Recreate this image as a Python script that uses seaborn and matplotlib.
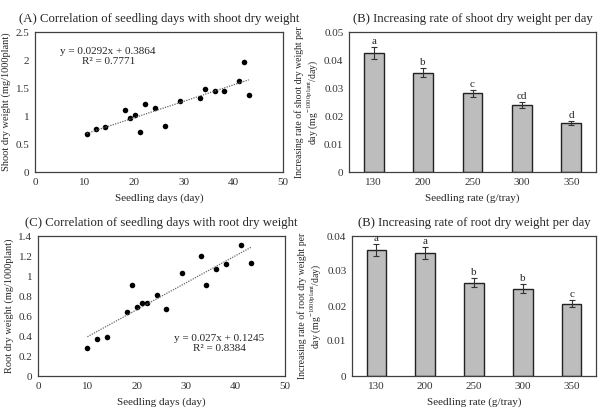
import matplotlib
matplotlib.use("Agg")
import matplotlib.pyplot as plt
import seaborn as sns
import pandas as pd
import numpy as np

sns.set_style("white")
plt.rcParams['font.family'] = ['Liberation Serif', 'DejaVu Serif']
plt.rcParams['mathtext.fontset'] = 'custom'
plt.rcParams['mathtext.rm'] = 'Liberation Serif'

# shoot dry weight vs seedling days
shoot_days = [10.4, 12.3, 14.2, 18.2, 19.2, 20.2, 21.2, 22.2, 24.2, 26.2, 29.2,
              33.2, 34.2, 36.2, 38.2, 41.2, 42.2, 43.1]
shoot_dw = [0.67, 0.76, 0.81, 1.11, 0.96, 1.01, 0.71, 1.21, 1.15, 0.82, 1.26,
            1.33, 1.48, 1.44, 1.45, 1.63, 1.96, 1.37]

# root dry weight vs seedling days
root_days = [10.0, 12.0, 14.0, 18.0, 19.1, 20.0, 21.0, 22.0, 24.1, 26.0, 29.1,
             33.0, 34.1, 36.1, 38.1, 41.1, 43.1]
root_dw = [0.28, 0.37, 0.39, 0.64, 0.91, 0.69, 0.73, 0.73, 0.81, 0.67, 1.03,
           1.20, 0.91, 1.07, 1.12, 1.31, 1.13]

rates = ["130", "200", "250", "300", "350"]
shoot_rate = [0.0425, 0.0355, 0.0281, 0.0240, 0.0175]
shoot_err = [0.0021, 0.0017, 0.0013, 0.0011, 0.0007]
shoot_letters = ["a", "b", "c", "cd", "d"]
root_rate = [0.0361, 0.0352, 0.0267, 0.0250, 0.0206]
root_err = [0.0017, 0.0017, 0.0013, 0.0012, 0.0010]
root_letters = ["a", "a", "b", "b", "c"]

W, H = 604, 412
fig = plt.figure(figsize=(W / 100, H / 100), dpi=100)


def box(l, t, r, b):
    return [l / W, 1 - b / H, (r - l) / W, (b - t) / H]


def frame(ax):
    for s in ax.spines.values():
        s.set_visible(True)
        s.set_color("#404040")
        s.set_linewidth(0.9)
    ax.tick_params(axis="both", labelsize=8, length=0, pad=4, colors="#333333")


def scatter_panel(ax, x, y, ylim, yticks, title, ylabel, eq, r2, eqpos):
    df = pd.DataFrame({"x": x, "y": y})
    sns.scatterplot(data=df, x="x", y="y", ax=ax, color="black", s=16,
                    edgecolor="black", linewidth=0)
    k, c = np.polyfit(df["x"], df["y"], 1)
    xs = np.array([min(x), max(x)])
    ax.plot(xs, k * xs + c, ls=(0, (1, 1)), color="#666666", lw=0.9)
    ax.set_xlim(0, 50)
    ax.set_ylim(*ylim)
    ax.set_xticks([0, 10, 20, 30, 40, 50])
    ax.set_yticks(yticks)
    ax.set_yticklabels([f"{v:g}" for v in yticks])
    ax.set_xlabel("Seedling days (day)", fontsize=8, labelpad=5)
    ax.set_ylabel(ylabel, fontsize=7.5, labelpad=3)
    ax.set_title(title, fontsize=9.2, pad=7)
    ax.text(eqpos[0], eqpos[1], eq + "\n" + r2, transform=ax.transAxes,
            fontsize=8, ha="center", va="top", linespacing=1.1)
    frame(ax)


def bar_panel(ax, vals, errs, letters, ylim, yticks, title, ylabel):
    df = pd.DataFrame({"rate": rates, "v": vals})
    sns.barplot(data=df, x="rate", y="v", ax=ax, color="#bdbdbd",
                edgecolor="#222222", linewidth=1.0, width=0.4, saturation=1)
    ax.errorbar(range(len(rates)), vals, yerr=errs, fmt="none",
                ecolor="#333333", elinewidth=0.8, capsize=2, capthick=0.8)
    for i, (v, e, t) in enumerate(zip(vals, errs, letters)):
        ax.text(i, v + e + 0.0003, t, ha="center", va="bottom", fontsize=8)
    ax.set_xlim(-0.5, 4.5)
    ax.set_ylim(*ylim)
    ax.set_yticks(yticks)
    ax.set_yticklabels([f"{v:g}" for v in yticks])
    ax.set_xlabel("Seedling rate (g/tray)", fontsize=8, labelpad=5)
    ax.set_ylabel(ylabel, fontsize=7, labelpad=3, linespacing=1.1)
    ax.set_title(title, fontsize=9.2, pad=7)
    frame(ax)


ax1 = fig.add_axes(box(35, 32, 283, 172))
scatter_panel(ax1, shoot_days, shoot_dw, (0, 2.5), [0, 0.5, 1, 1.5, 2, 2.5],
              "(A) Correlation of seedling days with shoot dry weight",
              "Shoot dry weight (mg/1000plant)",
              "y = 0.0292x + 0.3864", "R² = 0.7771", (0.295, 0.89))

ax2 = fig.add_axes(box(349, 32, 596, 172))
bar_panel(ax2, shoot_rate, shoot_err, shoot_letters, (0, 0.05),
          [0, 0.01, 0.02, 0.03, 0.04, 0.05],
          "(B) Increasing rate of shoot dry weight per day",
          "Increasing rate of shoot dry weight per\nday (mg$^{\\mathregular{-1000plant}}$/day)")

ax3 = fig.add_axes(box(38, 236, 285, 376))
scatter_panel(ax3, root_days, root_dw, (0, 1.4), [0, 0.2, 0.4, 0.6, 0.8, 1, 1.2, 1.4],
              "(C) Correlation of seedling days with root dry weight",
              "Root dry weight (mg/1000plant)",
              "y = 0.027x + 0.1245", "R² = 0.8384", (0.733, 0.3))

ax4 = fig.add_axes(box(352, 236, 596, 376))
bar_panel(ax4, root_rate, root_err, root_letters, (0, 0.04),
          [0, 0.01, 0.02, 0.03, 0.04],
          "(B) Increasing rate of root dry weight per day",
          "Increasing rate of root dry weight per\nday (mg$^{\\mathregular{-1000plant}}$/day)")

fig.savefig("out.png", dpi=100, facecolor="white")
